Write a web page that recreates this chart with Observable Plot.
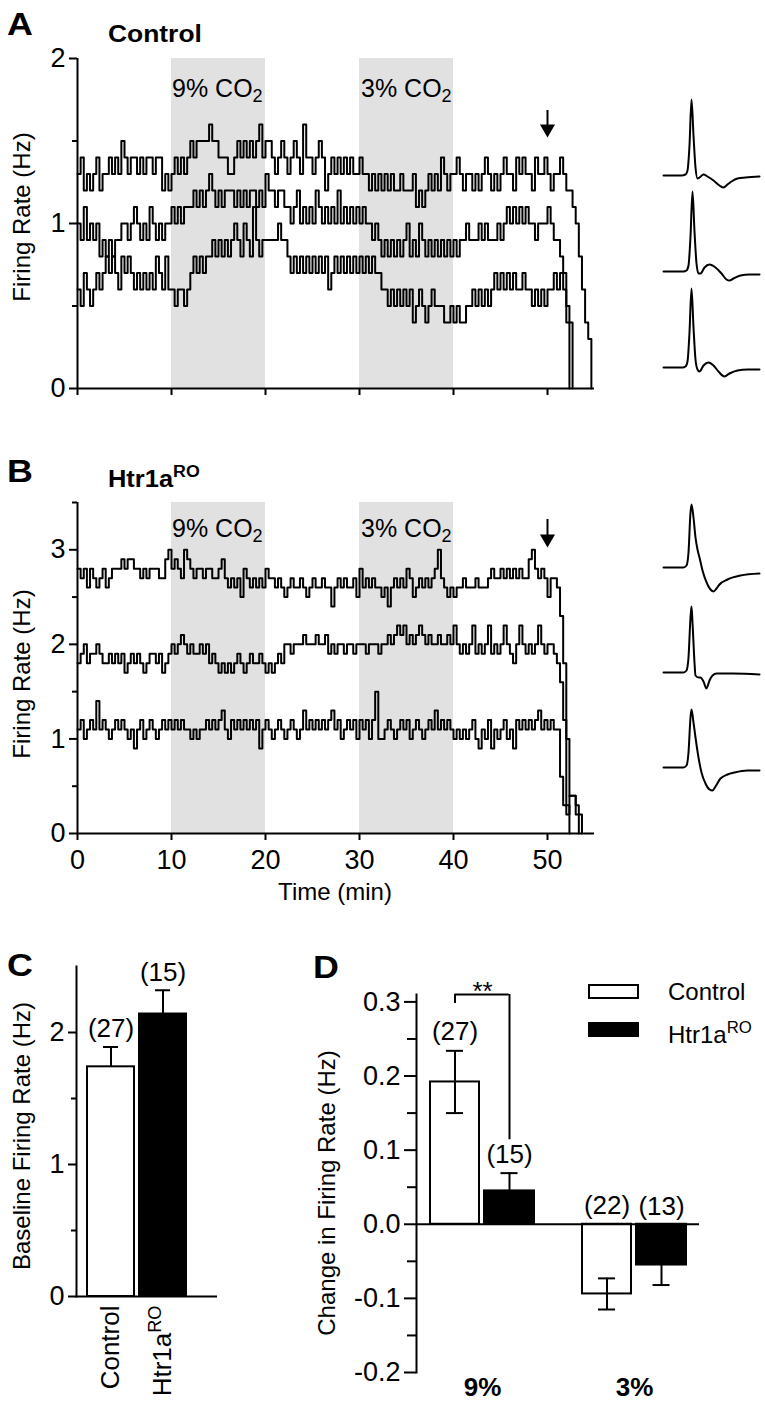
<!DOCTYPE html>
<html><head><meta charset="utf-8">
<script src="https://cdn.jsdelivr.net/npm/d3@7"></script>
<script src="https://cdn.jsdelivr.net/npm/@observablehq/plot@0.6"></script>
<style>
body{margin:0;background:#fff;}
#page{position:relative;width:765px;height:1402px;overflow:hidden;font-family:"Liberation Sans",Arial,Helvetica,sans-serif;color:#000;background:#fff;}
#page svg{position:absolute;}
.t{position:absolute;white-space:nowrap;line-height:1;transform-origin:0 0;}
.t sup{font-size:0.7em;position:relative;top:-0.55em;vertical-align:baseline;line-height:0;}
.t sub{font-size:0.72em;position:relative;top:0.3em;vertical-align:baseline;line-height:0;}
.box{position:absolute;box-sizing:border-box;border:2px solid #000;}
</style>
</head><body><div id="page"></div>
<script>
// ---------------- DATA ----------------
const binMin = 1/3;                 // firing-rate bins of 20 s
const timeTicks = [0,10,20,30,40,50];
const co2Start = [10,30];
const co2End = [20,40];
const co2Labels = ["9%","3%"];
const arrowTime = 50;

// Panel A (Control) – three units, Hz per 20 s bin
const ctrlUnit1 = [1.3,1.4,1.2, 1.3,1.2,1.3, 1.4,1.2,1.3, 1.3,1.4,1.3, 1.4,1.3,1.5, 1.4,1.3,1.4, 1.4,1.3,1.4, 1.3,1.4,1.4, 1.3,1.4,1.4, 1.2,1.3,1.2,
 1.3,1.4,1.3, 1.4,1.3,1.4, 1.5,1.4,1.5, 1.5,1.5,1.5, 1.6,1.5,1.5, 1.4,1.4,1.4, 1.3,1.3,1.4, 1.5,1.4,1.5, 1.4,1.5,1.4, 1.5,1.6,1.4,
 1.5,1.5,1.4, 1.3,1.4,1.5, 1.4,1.3,1.4, 1.5,1.4,1.3, 1.6,1.4,1.4, 1.3,1.4,1.5, 1.4,1.2,1.3, 1.4,1.3,1.4, 1.3,1.4,1.3, 1.4,1.3,1.3,
 1.4,1.3,1.3, 1.2,1.3,1.2, 1.3,1.2,1.3, 1.2,1.3,1.2, 1.2,1.3,1.2, 1.2,1.2,1.3, 1.1,1.2,1.1, 1.2,1.3,1.2, 1.3,1.2,1.4, 1.3,1.2,1.3,
 1.3,1.4,1.3, 1.2,1.3,1.3, 1.2,1.3,1.2, 1.3,1.4,1.3, 1.2,1.3,1.2, 1.3,1.4,1.3, 1.3,1.2,1.4, 1.3,1.4,1.3, 1.3,1.2,1.4, 1.3,1.3,1.4,
 1.3,1.2,1.3, 1.3,1.4,1.3, 1.2,1.2,1.1, 1.0,0.8,0.6, 0.4,0.3,0];
const ctrlUnit2 = [1.0,0.9,1.1, 0.9,1.0,0.9, 1.0,0.8,0.9, 0.8,0.9,0.8, 0.9,0.9,1.0, 1.0,0.9,1.0, 1.1,1.0,0.9, 1.0,0.9,1.1, 1.0,0.9,1.0, 0.9,1.0,1.0,
 1.1,1.0,1.1, 1.0,1.1,1.1, 1.1,1.2,1.1, 1.2,1.1,1.2, 1.3,1.2,1.1, 1.2,1.1,1.2, 1.2,1.2,1.1, 1.2,1.1,1.2, 1.1,1.2,1.2, 1.1,1.2,1.1,
 1.3,1.2,1.2, 1.1,1.2,1.2, 1.1,1.1,1.0, 1.1,1.2,1.0, 1.1,1.0,1.1, 1.0,1.2,1.1, 1.0,1.1,1.0, 1.1,1.0,1.2, 1.0,1.1,1.0, 1.1,1.0,1.1,
 1.0,1.1,1.0, 1.0,0.9,1.0, 0.9,0.8,0.9, 0.8,0.9,0.8, 0.9,0.8,0.9, 1.0,0.8,0.9, 0.8,1.0,0.9, 0.8,0.9,0.8, 0.9,0.8,0.9, 0.8,0.9,0.8,
 0.9,0.8,0.9, 0.9,1.0,0.9, 0.9,0.9,1.0, 0.9,1.0,0.9, 0.9,0.9,1.0, 0.9,1.0,1.1, 1.0,1.1,1.0, 1.1,1.0,1.1, 1.0,1.0,0.9, 1.0,1.0,1.0,
 1.1,1.0,0.9, 0.9,0.8,0.7, 0.5,0.4,0];
const ctrlUnit3 = [0.6,0.5,0.7, 0.6,0.5,0.6, 0.7,0.6,0.7, 0.8,0.7,0.8, 0.7,0.6,0.8, 0.7,0.8,0.7, 0.6,0.7,0.6, 0.7,0.6,0.7, 0.6,0.8,0.7, 0.6,0.8,0.6,
 0.6,0.5,0.6, 0.6,0.5,0.6, 0.7,0.8,0.7, 0.8,0.7,0.8, 0.8,0.9,0.8, 0.9,0.8,0.9, 0.8,0.9,1.0, 0.9,0.8,1.0, 0.9,0.8,1.1, 0.9,0.8,0.9,
 0.9,0.9,0.9, 0.9,1.0,0.9, 0.9,0.8,0.7, 0.8,0.7,0.8, 0.7,0.8,0.7, 0.8,0.7,0.8, 0.7,0.8,0.6, 0.7,0.8,0.7, 0.8,0.7,0.8, 0.7,0.8,0.7,
 0.8,0.7,0.8, 0.7,0.8,0.7, 0.7,0.6,0.6, 0.5,0.6,0.5, 0.6,0.5,0.6, 0.5,0.6,0.4, 0.5,0.6,0.5, 0.4,0.5,0.6, 0.5,0.5,0.5, 0.4,0.4,0.5,
 0.4,0.5,0.4, 0.4,0.5,0.5, 0.6,0.5,0.6, 0.5,0.6,0.5, 0.6,0.7,0.6, 0.7,0.6,0.7, 0.6,0.7,0.6, 0.6,0.7,0.6, 0.6,0.5,0.6, 0.5,0.6,0.5,
 0.6,0.6,0.7, 0.6,0.7,0.6, 0.4,0];

// Panel B (Htr1aRO) – three units
const htrUnit1 = [2.8,2.7,2.8, 2.6,2.8,2.7, 2.6,2.7,2.8, 2.6,2.7,2.8, 2.8,2.8,2.9, 2.8,2.9,2.9, 2.8,2.8,2.7, 2.8,2.7,2.8, 2.8,2.8,2.7, 2.7,2.9,3.0,
 2.8,2.9,2.8, 2.7,3.0,2.9, 2.8,2.7,2.8, 2.8,2.7,2.8, 2.8,2.7,2.7, 2.8,2.9,2.7, 2.6,2.7,2.6, 2.7,2.5,2.8, 2.7,2.6,2.7, 2.6,2.7,2.6,
 2.8,2.7,2.7, 2.6,2.7,2.6, 2.5,2.6,2.7, 2.6,2.6,2.7, 2.6,2.5,2.6, 2.7,2.6,2.6, 2.7,2.6,2.6, 2.4,2.6,2.7, 2.6,2.7,2.6, 2.6,2.7,2.5,
 2.8,2.6,2.7, 2.6,2.7,2.6, 2.6,2.5,2.6, 2.4,2.6,2.7, 2.6,2.7,2.6, 2.8,2.7,2.5, 2.6,2.7,2.6, 2.7,2.6,2.7, 2.8,3.0,2.7, 2.6,2.5,2.6,
 2.5,2.6,2.6, 2.7,2.6,2.6, 2.6,2.7,2.6, 2.6,2.6,2.7, 2.8,2.7,2.7, 2.8,2.7,2.8, 2.7,2.8,2.7, 2.8,2.7,2.7, 2.9,3.0,2.8, 2.7,2.8,2.7,
 2.5,2.7,2.7, 2.6,2.3,1.8, 1.0,0.4,0.4, 0.2,0.2,0];
const htrUnit2 = [1.8,1.9,2.0, 1.8,1.9,1.9, 2.0,1.9,1.8, 1.8,1.9,1.8, 1.9,1.8,1.9, 1.7,1.8,1.9, 1.8,1.9,1.8, 1.7,1.8,1.9, 1.9,1.8,1.9, 1.7,1.8,1.9,
 2.0,1.9,2.0, 2.1,2.0,1.9, 2.0,1.9,1.9, 2.0,1.9,2.0, 1.8,1.9,1.8, 1.7,1.8,1.7, 1.8,1.7,1.8, 1.9,1.8,1.7, 1.8,1.9,1.8, 1.8,1.9,1.8,
 1.7,1.8,1.7, 1.8,1.9,1.8, 2.0,2.0,1.9, 2.0,2.0,2.0, 2.1,2.0,2.0, 2.0,2.1,2.0, 2.0,2.1,1.9, 2.0,1.9,2.0, 2.0,1.9,2.0, 2.0,1.9,2.0,
 2.0,2.0,1.9, 2.0,2.0,2.0, 1.9,2.0,2.0, 2.1,2.0,2.1, 2.2,2.1,2.2, 2.0,2.1,2.0, 2.1,2.2,2.1, 2.0,2.1,2.0, 2.0,2.1,2.0, 2.0,2.1,2.0,
 2.2,2.0,1.9, 2.0,1.9,2.0, 2.2,1.9,2.0, 1.9,2.0,2.2, 1.9,2.0,1.9, 2.0,2.2,2.0, 1.9,1.8,2.0, 2.2,2.0,1.9, 2.0,1.9,2.0, 2.2,2.0,1.9,
 2.0,2.0,1.9, 1.8,1.6,1.2, 0.3,0];
const htrUnit3 = [1.1,1.2,1.0, 1.1,1.2,1.1, 1.4,1.1,1.2, 1.1,1.0,1.1, 1.2,1.1,1.2, 1.1,1.0,1.1, 0.9,1.1,1.2, 1.0,1.1,1.2, 1.1,1.0,1.1, 1.2,1.1,1.2,
 1.1,1.2,1.1, 1.2,1.1,1.1, 1.0,1.1,1.0, 1.1,1.1,1.2, 1.1,1.2,1.1, 1.2,1.3,1.1, 1.0,1.2,1.1, 1.2,1.1,1.2, 1.1,1.2,1.1, 1.2,0.9,1.1,
 1.2,1.1,1.0, 1.1,1.2,1.1, 1.0,1.1,1.2, 1.1,1.0,1.1, 1.3,1.1,1.2, 1.1,1.2,1.1, 1.2,1.1,1.2, 1.3,1.1,1.2, 1.0,1.1,1.2, 1.1,1.2,1.0,
 1.2,1.1,1.2, 1.0,1.2,1.5, 1.0,1.0,1.1, 1.2,1.1,1.0, 1.1,1.2,1.1, 1.2,1.0,1.1, 1.2,1.1,1.0, 1.1,1.2,1.1, 1.3,1.1,1.2, 1.1,1.2,1.1,
 1.0,1.1,1.0, 1.1,1.0,1.1, 1.2,1.0,0.9, 1.1,1.0,1.2, 0.9,1.1,1.0, 1.1,1.2,1.0, 1.1,0.9,1.2, 1.1,1.2,1.1, 1.2,1.1,1.2, 1.3,1.1,1.2,
 1.1,1.2,1.1, 1.1,0.6,0.3, 0.2,0.4,0.4, 0.3,0];

const aYTicksMajor = [0,1,2];
const aYTicksMinor = [0.5,1.5];
const bYTicksMajor = [0,1,2,3];
const bYTicksMinor = [0.5,1.5,2.5,3.5];

// Spike waveforms (sample index at 32 kHz, amplitude µV, baseline 0)
const wfSamples = {
  a1: [0,18,22,24,26,28,30,32,34,36,40,44,50,56,60,64,68,74,82,96],
  a2: [0,20,23,25,27,29,31,33,35,37,41,46,52,58,63,66,70,77,86,96],
  a3: [0,19,22,24,26,28,30,32,34,36,40,45,50,55,61,66,74,84,96],
  b1: [0,20,23,25,27,28,30,32,34,36,39,44,47,50,53,56,64,77,96],
  b2: [0,20,23,25,27,28,29,31,32,35,37,40,43,46,49,53,70,96],
  b3: [0,20,23,25,27,28,30,32,35,38,42,46,49,52,57,64,71,84,96]
};
const wfAmps = {
  a1: [0,0,1,5,30,76,40,8,-3,-2,1,-1,-5,-10,-12,-9,-6,-3,-2,-1],
  a2: [0,0,1,6,35,80,40,8,-2,-2,4,7,4,-2,-8,-9,-7,-4,-3,-3],
  a3: [0,0,1,6,35,79,40,8,-2,-4,2,5,2,-4,-9,-6,-3,-2,-2],
  b1: [0,0,2,15,55,63,50,30,18,10,-3,-17,-22,-24,-21,-17,-12,-8,-6],
  b2: [0,0,2,15,55,66,50,10,-3,-5,-5,-9,-16,-8,-3,-1,-1,-2],
  b3: [0,0,2,15,50,58,45,30,10,-5,-16,-22,-23,-19,-11,-7,-5,-3,-3]
};

// Panel C – baseline firing rate
const cGroups = ["Control","Htr1aRO"];
const cMean = [1.74, 2.14];
const cSem = [0.15, 0.18];
const cN = [27, 15];
const cYTicksMajor = [0,1,2];
const cYTicksMinor = [0.5,1.5];

// Panel D – change in firing rate
const dLevels = ["9%","3%"];
const dCtrlMean = [0.192, -0.094];
const dCtrlSem = [0.042, 0.021];
const dCtrlN = [27, 22];
const dHtrMean = [0.045, -0.055];
const dHtrSem = [0.024, 0.027];
const dHtrN = [15, 13];
const dYTicksMajor = [-0.2,-0.1,0,0.1,0.2,0.3];
const dYTicksMinor = [-0.15,-0.05,0.05,0.15,0.25];
const sigLevel = "9%";
const sigTop = 0.31, sigLeftEnd = 0.298, sigRightEnd = 0.114;
const sigText = "**";

// ---------------- DRAWING ----------------
const page = document.getElementById("page");
const FONT = '"Liberation Sans", Arial, Helvetica, sans-serif';
const TICKFS = 27;
const baseStyle = {fontSize: "26px", fontFamily: FONT, background: "transparent", overflow: "visible", color: "black"};

function put(svg, left, top) { svg.style.left = left + "px"; svg.style.top = top + "px"; page.appendChild(svg); return svg; }
function addText(content, x, baseline, opt = {}) {
  const {size = 24, weight = 400, anchor = "start", sx = 1} = opt;
  const d = document.createElement("div");
  d.className = "t";
  d.innerHTML = content;
  d.style.fontSize = size + "px";
  d.style.fontWeight = weight;
  d.style.left = x + "px";
  d.style.top = (baseline - 0.8465 * size) + "px";
  let tf = "";
  if (anchor === "middle") tf += "translateX(-50%) ";
  if (sx !== 1) tf += "scaleX(" + sx + ")";
  d.style.transform = tf;
  page.appendChild(d);
}
function addVText(content, cx, cy, size = 24) {
  const d = document.createElement("div");
  d.className = "t";
  d.innerHTML = content;
  d.style.fontSize = size + "px";
  d.style.left = cx + "px";
  d.style.top = cy + "px";
  d.style.transformOrigin = "50% 50%";
  d.style.transform = "translate(-50%,-50%) rotate(-90deg)";
  page.appendChild(d);
}

const co2Windows = co2Start.map((s, i) => ({start: s, end: co2End[i], label: co2Labels[i]}));
const traceRows = units => units.flatMap((vals, k) => vals.map((v, i) => ({t: i * binMin, v, unit: k})));

function tracePlot(units, yDomain, majors, minors, opts) {
  return Plot.plot({
    width: 620, height: opts.height,
    marginLeft: 77, marginRight: 26, marginTop: opts.mt, marginBottom: opts.mb,
    style: baseStyle,
    x: {domain: [0, 55]},
    y: {domain: yDomain},
    marks: [
      Plot.rect(co2Windows, {x1: "start", x2: "end", fill: "#e1e1e1"}),
      Plot.line(traceRows(units), {x: "t", y: "v", z: "unit", curve: "step-after", stroke: "black", strokeWidth: 2}),
      Plot.ruleX([0], {strokeWidth: 2}),
      Plot.ruleY([0], {strokeWidth: 2}),
      Plot.axisY({ticks: majors, tickSize: 8, tickPadding: 4, strokeWidth: 2, label: null, fontSize: TICKFS, tickFormat: d => String(d)}),
      Plot.axisY({ticks: minors, tickSize: 5, tickFormat: () => "", strokeWidth: 2, label: null}),
      Plot.axisX({ticks: timeTicks, tickSize: 7, tickPadding: 9, strokeWidth: 2, label: null, fontSize: TICKFS,
                  tickFormat: opts.xLabels ? (d => String(d)) : (() => "")}),
      Plot.ruleX([arrowTime], {y1: opts.arrow[0], y2: opts.arrow[1], strokeWidth: 2}),
      Plot.dot([arrowTime], {x: d => d, y: opts.arrow[1], symbol: "triangle", rotate: 180, r: 5.6, fill: "black", stroke: null})
    ]
  });
}

// Panel A  (arrow: shaft top, head centre in Hz units)
put(tracePlot([ctrlUnit1, ctrlUnit2, ctrlUnit3], [0, 2], aYTicksMajor, aYTicksMinor,
  {height: 420, mt: 58, mb: 32, xLabels: false, arrow: [1.685, 1.574]}), 0, 0);
// Panel B
put(tracePlot([htrUnit1, htrUnit2, htrUnit3], [0, 3.5], bYTicksMajor, bYTicksMinor,
  {height: 440, mt: 32, mb: 77, xLabels: true, arrow: [3.32, 3.115]}), 0, 470);

// Waveforms
function wavePlot(key, yDomain) {
  const rows = wfSamples[key].map((s, i) => ({s, a: wfAmps[key][i]}));
  return Plot.plot({
    width: 96, height: 100, margin: 0, style: {background: "transparent", overflow: "visible"},
    x: {domain: [0, 96], axis: null}, y: {domain: yDomain, axis: null},
    marks: [Plot.line(rows, {x: "s", y: "a", curve: "monotone-x", stroke: "black", strokeWidth: 2})]
  });
}
put(wavePlot("a1", [-15, 85]), 663, 90);
put(wavePlot("a2", [-15, 85]), 663, 186);
put(wavePlot("a3", [-15, 85]), 663, 282);
put(wavePlot("b1", [-30, 70]), 663, 497);
put(wavePlot("b2", [-30, 70]), 663, 602);
put(wavePlot("b3", [-30, 70]), 663, 697);

// Panel C
const cData = cGroups.map((g, i) => ({g, mean: cMean[i], sem: cSem[i], n: cN[i]}));
const plotC = Plot.plot({
  width: 230, height: 440, marginLeft: 76, marginRight: 13, marginTop: 6, marginBottom: 104,
  style: baseStyle,
  x: {type: "band", domain: cGroups, paddingInner: 0.105, paddingOuter: 0.395, align: 0.265},
  y: {domain: [0, 2.5]},
  marks: [
    Plot.barY(cData, {x: "g", y: "mean", fill: (d, i) => i === 0 ? "white" : "black", stroke: "black", strokeWidth: 2}),
    Plot.ruleX(cData, {x: "g", y1: "mean", y2: d => d.mean + d.sem, strokeWidth: 2}),
    Plot.tickY(cData, {x: "g", y: d => d.mean + d.sem, strokeWidth: 2, insetLeft: 16, insetRight: 16}),
    Plot.text(cData, {x: "g", y: d => d.mean + d.sem, text: d => `(${d.n})`, dy: -18, fontSize: 26}),
    Plot.ruleY([0], {strokeWidth: 2}),
    Plot.frame({anchor: "left", strokeWidth: 2}),
    Plot.axisY({ticks: cYTicksMajor, tickSize: 8, tickPadding: 4, strokeWidth: 2, label: null, fontSize: TICKFS, tickFormat: d => String(d)}),
    Plot.axisY({ticks: cYTicksMinor, tickSize: 5, tickFormat: () => "", strokeWidth: 2, label: null}),
    Plot.axisX({tickSize: 0, tickPadding: 9, tickRotate: -90, label: null, fontSize: 26})
  ]
});
d3.select(plotC).selectAll("text").each(function () {
  if (this.textContent === "Htr1aRO") {
    this.textContent = "Htr1a";
    d3.select(this).append("tspan").attr("dy", "-0.55em").attr("font-size", "0.7em").text("RO");
  }
});
put(plotC, 0, 960);

// Panel D
const dCtrl = dLevels.map((l, i) => ({l, mean: dCtrlMean[i], sem: dCtrlSem[i], n: dCtrlN[i]}));
const dHtr = dLevels.map((l, i) => ({l, mean: dHtrMean[i], sem: dHtrSem[i], n: dHtrN[i]}));
const sig = [{l: sigLevel}];
const capInset = 43.5;
const plotD = Plot.plot({
  width: 505, height: 442, marginLeft: 156, marginRight: 66, marginTop: 34, marginBottom: 30,
  style: baseStyle,
  x: {type: "band", domain: dLevels, paddingInner: 0.317, paddingOuter: 0.085},
  y: {domain: [-0.2, 0.31]},
  marks: [
    Plot.barY(dCtrl, {x: "l", y: "mean", fill: "white", stroke: "black", strokeWidth: 2, insetRight: 55}),
    Plot.barY(dHtr, {x: "l", y: "mean", fill: "black", stroke: "black", strokeWidth: 2, insetLeft: 54}),
    Plot.ruleX(dCtrl, {x: "l", y1: d => d.mean - d.sem, y2: d => d.mean + d.sem, dx: -27.5, strokeWidth: 2}),
    Plot.tickY(dCtrl, {x: "l", y: d => d.mean - d.sem, dx: -27.5, insetLeft: capInset, insetRight: capInset, strokeWidth: 2}),
    Plot.tickY(dCtrl, {x: "l", y: d => d.mean + d.sem, dx: -27.5, insetLeft: capInset, insetRight: capInset, strokeWidth: 2}),
    Plot.ruleX(dHtr, {x: "l", y1: "mean", y2: d => d.mean + Math.sign(d.mean) * d.sem, dx: 27, strokeWidth: 2}),
    Plot.tickY(dHtr, {x: "l", y: d => d.mean + Math.sign(d.mean) * d.sem, dx: 27, insetLeft: capInset, insetRight: capInset, strokeWidth: 2}),
    Plot.text(dCtrl, {x: "l", y: d => Math.max(0, d.mean + d.sem), text: d => `(${d.n})`, dx: -27.5, dy: -19, fontSize: 26}),
    Plot.text(dHtr, {x: "l", y: d => Math.max(0, d.mean + d.sem), text: d => `(${d.n})`, dx: 27, dy: -18, fontSize: 26}),
    Plot.ruleX(sig, {x: "l", y1: sigTop, y2: sigLeftEnd, dx: -27.5, strokeWidth: 2}),
    Plot.ruleX(sig, {x: "l", y1: sigTop, y2: sigRightEnd, dx: 27, strokeWidth: 2}),
    Plot.tickY(sig, {x: "l", y: sigTop, insetLeft: 24.5, insetRight: 25.3, strokeWidth: 2}),
    Plot.text(sig, {x: "l", y: sigTop, text: () => sigText, dy: -3, fontSize: 26}),
    Plot.ruleY([0], {strokeWidth: 2}),
    Plot.frame({anchor: "left", strokeWidth: 2}),
    Plot.axisY({ticks: dYTicksMajor, tickSize: 12, tickPadding: 4, strokeWidth: 2, label: null, fontSize: TICKFS, tickFormat: d => d.toFixed(1)}),
    Plot.axisY({ticks: dYTicksMinor, tickSize: 9, tickFormat: () => "", strokeWidth: 2, label: null}),
    Plot.axisX({tickSize: 0, tickPadding: 5, label: null, fontSize: 26})
  ]
});
d3.select(plotD).selectAll('g[aria-label="x-axis tick label"]').attr("font-weight", "bold");
put(plotD, 260, 960);

// ---------------- TEXT ----------------
addText("A", 7, 35, {size: 32, weight: 700, sx: 1.12});
addText("Control", 108, 42, {size: 24, weight: 700, sx: 1.1});
addText("9% CO<sub>2</sub>", 172, 97, {size: 25});
addText("3% CO<sub>2</sub>", 361, 97, {size: 25});
addVText("Firing Rate (Hz)", 22, 217);

addText("B", 7, 482, {size: 32, weight: 700, sx: 1.12});
addText("Htr1a<sup>RO</sup>", 108, 487, {size: 24, weight: 700, sx: 1.06});
addText("9% CO<sub>2</sub>", 172, 537, {size: 25});
addText("3% CO<sub>2</sub>", 361, 537, {size: 25});
addVText("Firing Rate (Hz)", 22, 674);
addText("Time (min)", 335, 900, {size: 24, anchor: "middle"});

addText("C", 7, 976, {size: 32, weight: 700, sx: 1.12});
addVText("Baseline Firing Rate (Hz)", 22, 1136);

addText("D", 313, 978, {size: 32, weight: 700, sx: 1.12});
addVText("Change in Firing Rate (Hz)", 327, 1193);

// legend (panel D)
const lb1 = document.createElement("div"); lb1.className = "box";
Object.assign(lb1.style, {left: "588px", top: "984px", width: "51px", height: "15px", background: "#fff"}); page.appendChild(lb1);
const lb2 = document.createElement("div"); lb2.className = "box";
Object.assign(lb2.style, {left: "588px", top: "1022px", width: "51px", height: "15px", background: "#000"}); page.appendChild(lb2);
addText("Control", 668, 1000, {size: 24});
addText("Htr1a<sup>RO</sup>", 668, 1043, {size: 24});
</script>
</body></html>
